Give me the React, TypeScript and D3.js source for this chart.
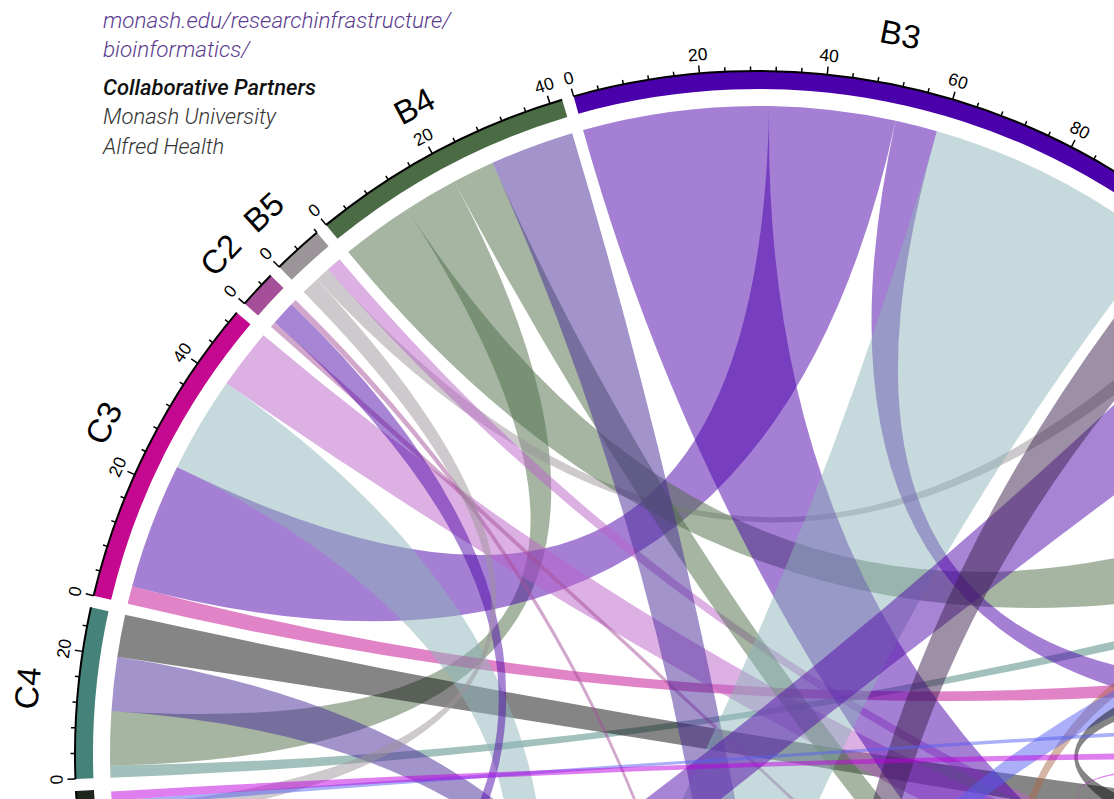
import React, { useMemo } from 'react';
import * as d3 from 'd3';

// ---------- DATA ----------
// sectors in clockwise order (only the upper-left part of the circle is in view)
const sectorNames = ['C4', 'C3', 'C2', 'B5', 'B4', 'B3', 'B2', 'B1', 'A5', 'A4', 'A3', 'A2', 'A1', 'D3', 'D2', 'D1', 'C5'];
const sectorSizes = [27, 50, 6, 8, 42, 100, 46.5, 44, 10, 16, 14, 100.2, 34, 75, 21, 30, 14.9];
const sectorColors = [
  '#45837a', '#c4088f', '#a54f99', '#9b9499', '#4b6b45', '#4a00aa',
  '#3b1f4b', '#5560f1', '#c000e0', '#0b0b0b', '#bb61c9', '#a96949',
  '#472797', '#8db3b9', '#5109a9', '#777777', '#1c261c',
];

// links: source -> target with value
const linkSources = ['C4', 'B4', 'A1', 'A4', 'C3', 'B3', 'D3', 'A3', 'C2', 'D2', 'C2', 'B5', 'B5', 'A3', 'B4', 'B4', 'A1', 'B3', 'B3', 'D3', 'D2', 'B2', 'A2', 'B1', 'A4', 'B1', 'A5', 'A5', 'D1'];
const linkTargets = ['B1', 'C4', 'C4', 'C4', 'B1', 'C3', 'C3', 'C3', 'A2', 'C2', 'A1', 'C5', 'B2', 'B5', 'B1', 'A2', 'B4', 'A2', 'B1', 'B3', 'B2', 'A1', 'B1', 'D3', 'B1', 'C5', 'C5', 'A4', 'C5'];
const linkValues = [2, 9, 9, 7, 3, 21, 16, 10, 1, 4, 1, 3, 2.5, 2.5, 12, 7, 14, 31, 7, 41, 15, 10, 4, 6, 6, 1, 1.5, 0.8, 9];

// order of the link ends inside each sector (partner sector names, clockwise)
const sectorLinkOrder = [
  ['B1', 'B4', 'A1', 'A4'],                       // C4
  ['B1', 'B3', 'D3', 'A3'],                       // C3
  ['A2', 'D2', 'A1'],                             // C2
  ['C5', 'B2', 'A3'],                             // B5
  ['B1', 'C4', 'A2', 'A1'],                       // B4
  ['A2', 'C3', 'B1', 'D3'],                       // B3
  ['A1', 'B5', 'D2'],                             // B2
  ['B4', 'A2', 'C4', 'D3', 'A4', 'C3', 'B3', 'C5'], // B1
  ['C5', 'A4'],                                   // A5
  ['C4', 'B1', 'A5'],                             // A4
  ['B5', 'C3'],                                   // A3
  ['B3', 'B4', 'C2', 'B1'],                       // A2
  ['B2', 'B4', 'C2', 'C4'],                       // A1
  ['B1', 'B3', 'C3'],                             // D3
  ['B2', 'C2'],                                   // D2
  ['C5'],                                         // D1
  ['D1', 'B5', 'B1', 'A5'],                       // C5
];

const infoLines = ['monash.edu/researchinfrastructure/', 'bioinformatics/'];
const partnerTitle = 'Collaborative Partners';
const partnerNames = ['Monash University', 'Alfred Health'];

// ---------- LAYOUT CONSTANTS ----------
const W = 1114;
const H = 799;
const CX = 758;
const CY = 754;
const GAP_DEG = 1;
const START_DEG = -92.1;
const R_CHORD = 648;
const R_TRACK_IN = 665;
const R_TRACK_OUT = 683;
const R_AXIS = 683;
const R_TICK_LABEL = 696;
const R_SECTOR_LABEL = 722;
const TICK_STEP = 4;
const MAJOR_STEP = 20;
const AXIS_FONT = '"Liberation Sans", Arial, Helvetica, sans-serif';

type End = { startAngle: number; endAngle: number };

export default function App() {
  const { sectors, ribbons } = useMemo(() => {
    const total = d3.sum(sectorSizes);
    const degPerUnit = (360 - GAP_DEG * sectorNames.length) / total;
    let cur = START_DEG;
    const secs = sectorNames.map((name, i) => {
      const a0 = cur;
      const a1 = cur + sectorSizes[i] * degPerUnit;
      cur = a1 + GAP_DEG;
      const scale = d3
        .scaleLinear()
        .domain([0, sectorSizes[i]])
        .range([(a0 * Math.PI) / 180, (a1 * Math.PI) / 180]);
      return { name, size: sectorSizes[i], color: sectorColors[i], scale };
    });

    const ends: { source: End | null; target: End | null }[] = linkValues.map(() => ({ source: null, target: null }));
    secs.forEach((s, i) => {
      let pos = 0;
      sectorLinkOrder[i].forEach((partner) => {
        const k = linkValues.findIndex(
          (_, j) =>
            (linkSources[j] === s.name && linkTargets[j] === partner) ||
            (linkTargets[j] === s.name && linkSources[j] === partner)
        );
        if (k < 0) return;
        const v = linkValues[k];
        const end = { startAngle: s.scale(pos), endAngle: s.scale(pos + v) };
        pos += v;
        if (linkSources[k] === s.name && ends[k].source === null) ends[k].source = end;
        else ends[k].target = end;
      });
    });

    const ribbonGen = d3.ribbon<any, any>().radius(R_CHORD);
    const colorOf = (n: string) => sectorColors[sectorNames.indexOf(n)];
    const rbs = ends
      .map((e, k) => {
        if (!e.source || !e.target) return null;
        return {
          d: ribbonGen({ source: e.source, target: e.target }) as unknown as string,
          color: colorOf(linkSources[k]),
        };
      })
      .filter(Boolean) as { d: string; color: string }[];
    return { sectors: secs, ribbons: rbs };
  }, []);

  const trackArc = d3.arc<any>().innerRadius(R_TRACK_IN).outerRadius(R_TRACK_OUT);

  return (
    <svg
      width={W}
      height={H}
      viewBox={`0 0 ${W} ${H}`}
      style={{ position: 'absolute', left: 0, top: 0, background: '#fff' }}
    >
      <rect x={0} y={0} width={W} height={H} fill="#fff" />
      <g transform={`translate(${CX},${CY})`}>
        {/* links */}
        <g>
          {ribbons.map((r, i) => (
            <path key={i} d={r.d} fill={r.color} fillOpacity={0.5} stroke="none" />
          ))}
        </g>
        {/* sector tracks */}
        {sectors.map((s) => (
          <path
            key={'t' + s.name}
            d={trackArc({ startAngle: s.scale(0), endAngle: s.scale(s.size) }) as string}
            fill={s.color}
          />
        ))}
        {/* axes */}
        {sectors.map((s) => {
          const p = d3.path();
          p.arc(0, 0, R_AXIS, s.scale(0) - Math.PI / 2, s.scale(s.size) - Math.PI / 2);
          const ticks = d3.range(0, s.size + 1e-9, TICK_STEP);
          return (
            <g key={'a' + s.name}>
              <path d={p.toString()} fill="none" stroke="#000" strokeWidth={2} />
              {ticks.map((t) => {
                const a = s.scale(t);
                const major = t % MAJOR_STEP === 0;
                const len = major ? 8 : 4.5;
                return (
                  <line
                    key={t}
                    x1={Math.sin(a) * R_AXIS}
                    y1={-Math.cos(a) * R_AXIS}
                    x2={Math.sin(a) * (R_AXIS + len)}
                    y2={-Math.cos(a) * (R_AXIS + len)}
                    stroke="#000"
                    strokeWidth={1.5}
                  />
                );
              })}
              {ticks
                .filter((t) => t % MAJOR_STEP === 0)
                .map((t) => {
                  const deg = (s.scale(t) * 180) / Math.PI;
                  return (
                    <text
                      key={'l' + t}
                      transform={`rotate(${deg}) translate(0,${-R_TICK_LABEL})`}
                      textAnchor="middle"
                      fontFamily={AXIS_FONT}
                      fontSize={17.5}
                      fill="#000"
                    >
                      {t}
                    </text>
                  );
                })}
              <text
                transform={`rotate(${((s.scale(0) + s.scale(s.size)) / 2) * 180 / Math.PI}) translate(0,${-R_SECTOR_LABEL})`}
                textAnchor="middle"
                fontFamily={AXIS_FONT}
                fontSize={33}
                fill="#000"
              >
                {s.name}
              </text>
            </g>
          );
        })}
      </g>
      {/* text block */}
      <g fontFamily="Roboto, 'Open Sans', sans-serif" fontStyle="italic">
        {infoLines.map((t, i) => (
          <text key={t} x={103} y={28 + i * 29} fontSize={22.5} fontWeight={300} fill="#5b3c8f">
            {t}
          </text>
        ))}
        <text x={103} y={95} fontSize={22} fontWeight={500} fill="#111">
          {partnerTitle}
        </text>
        {partnerNames.map((t, i) => (
          <text key={t} x={103} y={124 + i * 30} fontSize={22} fontWeight={300} fill="#333">
            {t}
          </text>
        ))}
      </g>
    </svg>
  );
}
